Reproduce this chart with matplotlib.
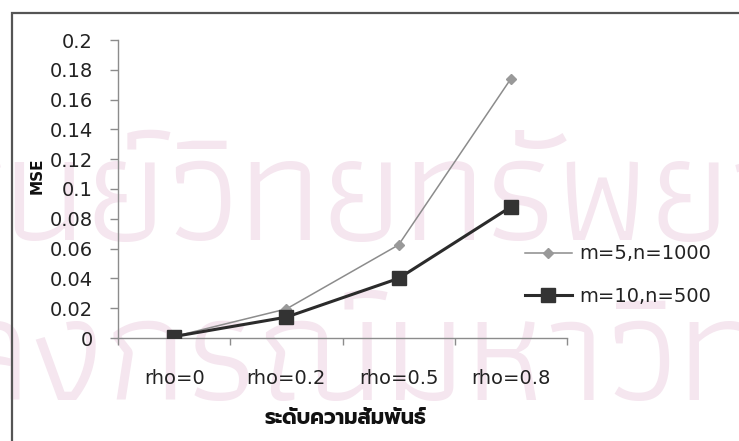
import matplotlib
matplotlib.use("Agg")
import matplotlib.pyplot as plt
from matplotlib.patches import Rectangle
from matplotlib.font_manager import FontProperties

# MSE by correlation level
categories = ["rho=0", "rho=0.2", "rho=0.5", "rho=0.8"]
mse_m5_n1000 = [0.001, 0.0195, 0.0625, 0.174]
mse_m10_n500 = [0.001, 0.014, 0.040, 0.088]
series_labels = ["m=5,n=1000", "m=10,n=500"]
y_ticks = [0, 0.02, 0.04, 0.06, 0.08, 0.1, 0.12, 0.14, 0.16, 0.18, 0.2]
y_tick_labels = ["0", "0.02", "0.04", "0.06", "0.08", "0.1", "0.12", "0.14", "0.16", "0.18", "0.2"]
x_title = "ระดับความสัมพันธ์"
y_title = "MSE"
stamp_lines = ["ศูนย์วิทยทรัพยากร", "จุฬาลงกรณ์มหาวิทยาลัย"]
stamp_cut = [5, 6]   # characters that run off the left edge

W, H = 739, 441
fig = plt.figure(figsize=(W / 100, H / 100), dpi=100)
renderer = fig.canvas.get_renderer()

# faint library stamp behind the chart
stamp_font = FontProperties(family=["Athiti", "Noto Sans Thai"], size=108)
for line, cut, x_start, base in zip(stamp_lines, stamp_cut, [167, 105], [240, 400]):
    w_prefix = renderer.get_text_width_height_descent(line[:cut], stamp_font, ismath=False)[0]
    fig.text((x_start - w_prefix) / W, 1 - base / H, line, fontproperties=stamp_font,
             color="#f5e6ef", ha="left", va="baseline", zorder=-5)

# chart area border
fig.patches.append(Rectangle((12 / W, -0.05), 1.2, 1 - 13 / H + 0.05, transform=fig.transFigure,
                             fill=False, edgecolor="#555555", linewidth=1.6, zorder=1))

ax = fig.add_axes([118 / W, 1 - 338 / H, (567 - 118) / W, (338 - 40) / H])
ax.patch.set_visible(False)

x = list(range(len(categories)))
ax.plot(x, mse_m5_n1000, color="#8c8c8c", linewidth=1.1, marker="D", markersize=5.5,
        markerfacecolor="#999999", markeredgecolor="#999999", label=series_labels[0], zorder=3)
ax.plot(x, mse_m10_n500, color="#2b2b2b", linewidth=2.2, marker="s", markersize=10,
        markerfacecolor="#333333", markeredgecolor="#333333", label=series_labels[1], zorder=4)

ax.set_xlim(-0.5, len(categories) - 0.5)
ax.set_ylim(0, 0.2)
ax.set_yticks(y_ticks)
ax.set_yticklabels(y_tick_labels)
ax.set_xticks(x)
ax.set_xticklabels(categories)
ax.set_xticks([i - 0.5 for i in range(len(categories) + 1)], minor=True)

for side in ["top", "right"]:
    ax.spines[side].set_visible(False)
for side in ["left", "bottom"]:
    ax.spines[side].set_color("#8c8c8c")
    ax.spines[side].set_linewidth(1.0)

ax.tick_params(axis="y", length=6, width=1, color="#8c8c8c", pad=12, labelsize=14, labelcolor="#222222")
ax.tick_params(axis="x", which="major", length=0, pad=22, labelsize=14, labelcolor="#222222")
ax.tick_params(axis="x", which="minor", length=5, width=1, color="#8c8c8c")

fig.text(37 / W, 1 - 176 / H, y_title, rotation=90, fontsize=11, fontweight="bold",
         ha="center", va="center", color="#111111")
fig.text(345 / W, 1 - 419 / H, x_title, fontsize=15, fontweight="bold",
         family=["Prompt", "Noto Sans Thai"], ha="center", va="center", color="#111111")

fig.legend(loc="center left", bbox_to_anchor=(525 / W, 1 - 275 / H), frameon=False,
           fontsize=14, handlelength=2.4, handletextpad=0.4, labelspacing=1.2,
           borderpad=0, borderaxespad=0, labelcolor="#222222")

fig.savefig("out.png", dpi=100)
